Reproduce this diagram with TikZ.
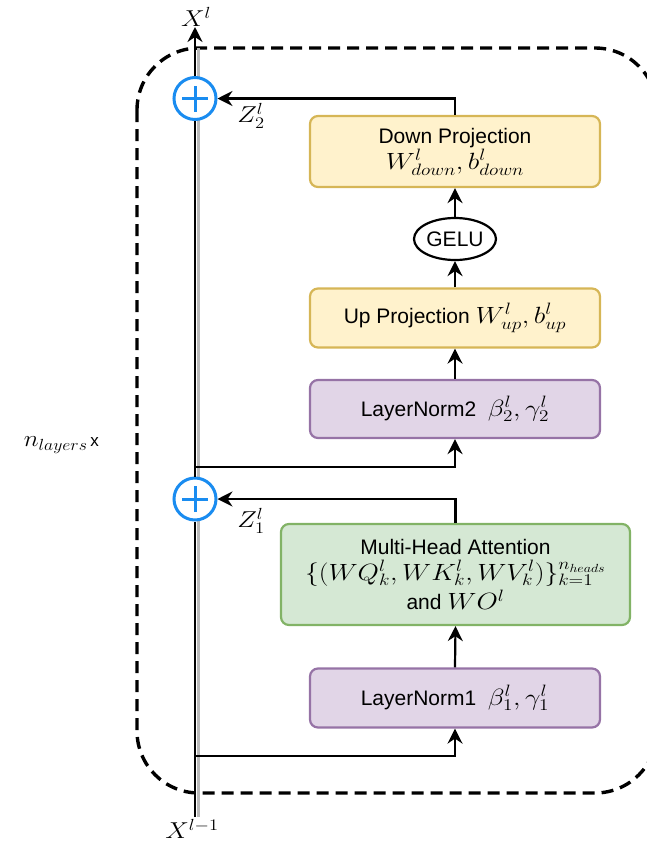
\RequirePackage{fix-cm}
\documentclass[tikz,border=0pt]{standalone}
\usepackage{fontspec}
\setmainfont{Liberation Sans}
\usetikzlibrary{arrows.meta,shapes.geometric}

\definecolor{ylwfill}{HTML}{FFF2CC}
\definecolor{ylwline}{HTML}{D6B656}
\definecolor{prpfill}{HTML}{E1D5E7}
\definecolor{prpline}{HTML}{9673A6}
\definecolor{grnfill}{HTML}{D5E8D4}
\definecolor{grnline}{HTML}{82B366}
\definecolor{addblue}{HTML}{1A8CF0}

% text and math sizes (math is set a little wide, as in the drawing)
\newcommand\txtsize{\fontsize{21}{25}\selectfont}
\newcommand\mth[1]{\scalebox{1.17}[1]{\fontsize{23.5}{27}\selectfont$#1$}}
\newcommand\lbl[1]{\scalebox{1.15}[1]{\fontsize{23}{27}\selectfont$#1$}}

\tikzset{
  block/.style={rounded corners=8pt, line width=2.2pt, minimum width=290pt,
                align=center, font=\txtsize, inner sep=0pt},
  ylwblock/.style={block, fill=ylwfill, draw=ylwline},
  prpblock/.style={block, fill=prpfill, draw=prpline},
  grnblock/.style={block, fill=grnfill, draw=grnline},
  tip/.style={-{Stealth[length=15pt,width=15pt,inset=5pt]}},
  flow/.style={line width=2.2pt, tip},
  trunk/.style={line width=2.4pt},
  addnode/.style={circle, draw=addblue, fill=white, line width=3pt,
                  minimum size=42pt, inner sep=0pt,
                  path picture={\draw[addblue, line width=3pt]
                    ([xshift=-13pt]path picture bounding box.center) -- ([xshift=13pt]path picture bounding box.center)
                    ([yshift=-13pt]path picture bounding box.center) -- ([yshift=13pt]path picture bounding box.center);}},
  frame/.style={line width=3.4pt, dash pattern=on 12pt off 7pt, rounded corners=62pt},
}

\begin{document}
\begin{tikzpicture}[x=1pt, y=-1pt]
\useasboundingbox (0,0) rectangle (647,852);

% repeated-layer frame
\draw[frame] (137,48) rectangle (657,793);

% residual stream shadow
\draw[gray!55, line width=2.4pt] (198.5,817) -- (198.5,48);

% residual stream points
\coordinate (xin)  at (195,817);
\coordinate (xout) at (195,27);
\coordinate (br1)  at (195,756);
\coordinate (br2)  at (195,467);

% additions
\node[addnode] (add1) at (195,499) {};
\node[addnode] (add2) at (195,98.5) {};

% blocks
\node[prpblock, minimum height=59pt] (ln1) at (455,698)
  {LayerNorm1\ \ \mth{\beta^l_1, \gamma^l_1}};
\node[grnblock, minimum width=349pt, minimum height=101pt] (mha) at (455.5,574.5)
  {Multi-Head Attention\\[1pt]
   \mth{\{(WQ^l_k, WK^l_k, WV^l_k)\}^{n_{heads}}_{k=1}}\\[3pt]
   and \mth{WO^l}};
\node[prpblock, minimum height=58pt] (ln2) at (455,409)
  {LayerNorm2\ \ \mth{\beta^l_2, \gamma^l_2}};
\node[ylwblock, minimum height=59pt] (up) at (455,318)
  {Up Projection \mth{W^l_{up}, b^l_{up}}};
\node[ellipse, draw, fill=white, line width=2.2pt, minimum width=82pt,
      minimum height=42pt, inner sep=0pt, font=\fontsize{21}{25}\selectfont] (gelu) at (455,239) {GELU};
\node[ylwblock, minimum height=71pt] (down) at (455,151.5)
  {Down Projection\\[1pt]\mth{W^l_{down}, b^l_{down}}};

% residual stream
\draw[trunk] (xin) -- (add1.south);
\draw[trunk] (add1.north) -- (add2.south);
\draw[trunk, tip] (add2.north) -- (xout);

% sub-layer connections
\draw[flow] (br1) -| (ln1.south);
\draw[flow] (ln1.north) -- (mha.south);
\draw[flow] (mha.north) |- (add1.east);
\draw[flow] (br2) -| (ln2.south);
\draw[flow] (ln2.north) -- (up.south);
\draw[flow] (up.north) -- (gelu.south);
\draw[flow] (gelu.north) -- (down.south);
\draw[flow] (down.north) |- (add2.east);

% labels
\node (zone) at (251,521) {\lbl{Z^l_1}};
\node (ztwo) at (251,116) {\lbl{Z^l_2}};
\node (xtop) at (196,17) {\lbl{X^l}};
\node (xbot) at (192,829) {\lbl{X^{l-1}}};
\node[anchor=east, inner sep=0pt] (nlay) at (99,445)
  {\scalebox{1.1}[1]{\fontsize{23}{27}\selectfont$n_{layers}$}\ {\fontsize{17}{20}\selectfont x}};
\end{tikzpicture}
\end{document}
